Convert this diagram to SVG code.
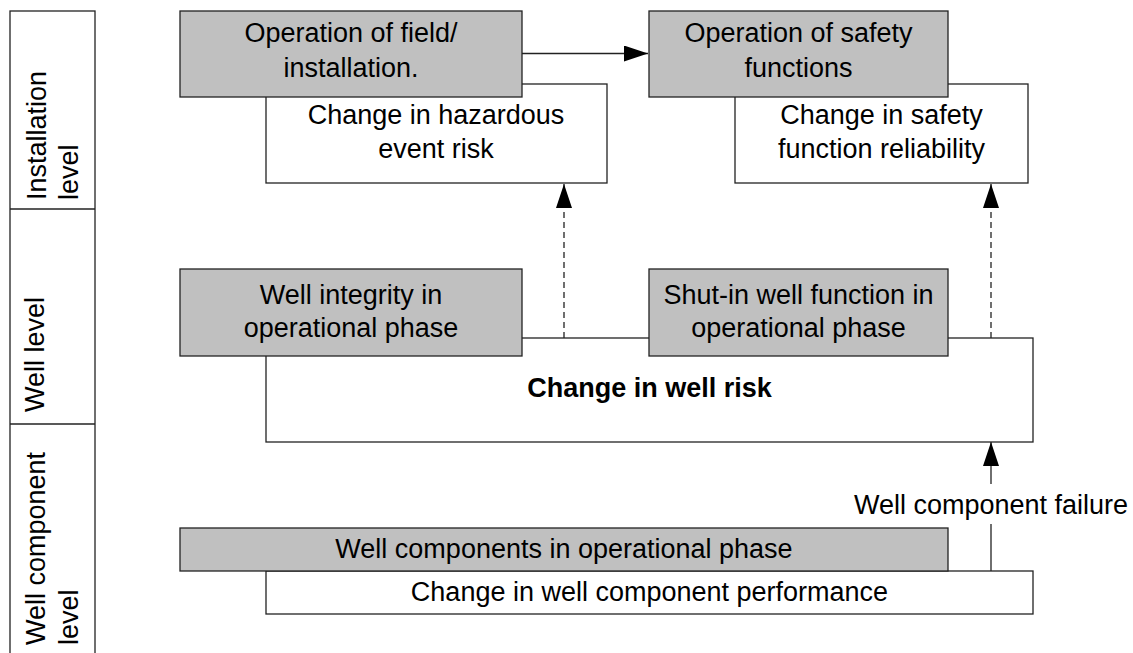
<svg xmlns="http://www.w3.org/2000/svg" width="1133" height="653" viewBox="0 0 1133 653">
  <style>
    .box { stroke: #222; stroke-width: 1.3; }
    .grey { fill: #c0c0c0; }
    .white { fill: #ffffff; }
    .t { font-family: "Liberation Sans", Arial, sans-serif; font-size: 27px; fill: #000; text-anchor: middle; }
    .b { font-weight: bold; }
    .side { font-family: "Liberation Sans", Arial, sans-serif; font-size: 27px; fill: #000; text-anchor: start; }
    .conn { fill: none; stroke: #222; stroke-width: 1.3; }
    .dash { stroke-dasharray: 6 4; }
  </style>
  <defs>
    <marker id="arrow" markerUnits="userSpaceOnUse" viewBox="0 0 24 16" refX="24" refY="8" markerWidth="24" markerHeight="16" orient="auto">
      <path d="M0,0 L24,8 L0,16 Z" fill="#000"/>
    </marker>
  </defs>

  <rect width="1133" height="653" fill="#ffffff"/>

  <!-- level band on the left -->
  <g id="levels">
    <rect class="box white" x="10" y="11" width="85" height="660"/>
    <line class="conn" x1="10" y1="209" x2="95" y2="209"/>
    <line class="conn" x1="10" y1="424" x2="95" y2="424"/>
    <text class="side" transform="translate(46,200) rotate(-90)">Installation</text>
    <text class="side" transform="translate(78,200) rotate(-90)">level</text>
    <text class="side" transform="translate(44,412) rotate(-90)">Well level</text>
    <text class="side" transform="translate(45,645) rotate(-90)">Well component</text>
    <text class="side" transform="translate(78,645) rotate(-90)">level</text>
  </g>

  <!-- installation level -->
  <g id="hazard-risk">
    <rect class="box white" x="266" y="84" width="341" height="99"/>
    <text class="t" x="436" y="124">Change in hazardous</text>
    <text class="t" x="436" y="158">event risk</text>
  </g>
  <g id="field-operation">
    <rect class="box grey" x="180" y="11" width="342" height="86"/>
    <text class="t" x="351" y="42">Operation of field/</text>
    <text class="t" x="351" y="77">installation.</text>
  </g>
  <g id="sf-reliability">
    <rect class="box white" x="735" y="84" width="293" height="99"/>
    <text class="t" x="881.5" y="124">Change in safety</text>
    <text class="t" x="881.5" y="158">function reliability</text>
  </g>
  <g id="sf-operation">
    <rect class="box grey" x="649" y="11" width="299" height="86"/>
    <text class="t" x="798.5" y="42">Operation of safety</text>
    <text class="t" x="798.5" y="77">functions</text>
  </g>

  <!-- well level -->
  <g id="well-risk">
    <rect class="box white" x="266" y="338" width="767" height="104"/>
    <text class="t b" x="649.5" y="397">Change in well risk</text>
  </g>
  <g id="well-integrity">
    <rect class="box grey" x="180" y="269" width="342" height="87"/>
    <text class="t" x="351" y="304">Well integrity in</text>
    <text class="t" x="351" y="337">operational phase</text>
  </g>
  <g id="shut-in">
    <rect class="box grey" x="649" y="269" width="299" height="87"/>
    <text class="t" x="798.5" y="304">Shut-in well function in</text>
    <text class="t" x="798.5" y="337">operational phase</text>
  </g>

  <!-- well component level -->
  <g id="component-performance">
    <rect class="box white" x="266" y="571" width="767" height="43"/>
    <text class="t" x="649.5" y="601">Change in well component performance</text>
  </g>
  <g id="components">
    <rect class="box grey" x="180" y="528" width="768" height="43"/>
    <text class="t" x="564" y="558">Well components in operational phase</text>
  </g>

  <!-- connectors -->
  <g id="connectors">
    <line class="conn" x1="522" y1="53.5" x2="648" y2="53.5" marker-end="url(#arrow)"/>
    <line class="conn dash" x1="564" y1="338" x2="564" y2="184" marker-end="url(#arrow)"/>
    <line class="conn dash" x1="991" y1="338" x2="991" y2="184" marker-end="url(#arrow)"/>
    <line class="conn" x1="991" y1="571" x2="991" y2="442" marker-end="url(#arrow)"/>
    <rect x="850" y="484" width="282" height="40" fill="#ffffff"/>
    <text class="t" x="991" y="514">Well component failure</text>
  </g>
</svg>
